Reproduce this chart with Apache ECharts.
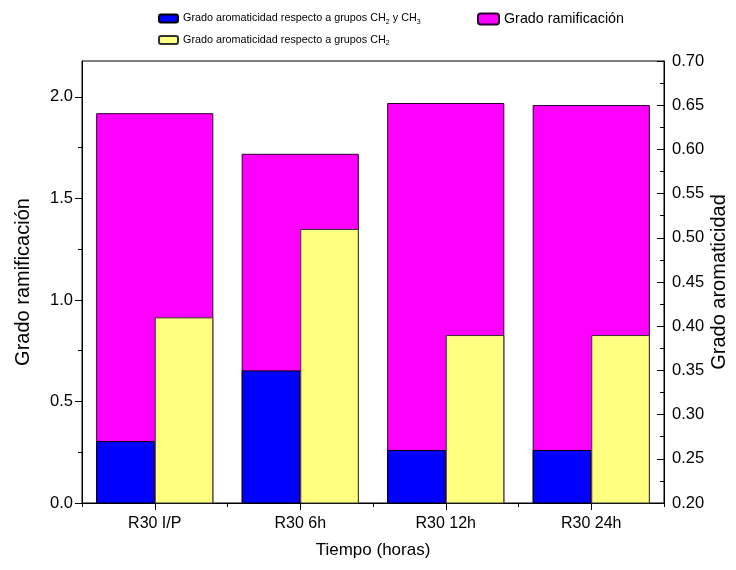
<!DOCTYPE html>
<html>
<head>
<meta charset="utf-8">
<script src="https://cdn.jsdelivr.net/npm/echarts@6/dist/echarts.min.js"></script>
<style>
  html, body { margin: 0; padding: 0; background: #fff; }
  #chart { width: 736px; height: 570px; }
</style>
</head>
<body>
<div id="chart"></div>
<script>
// Samples along the reaction time
const categories = ['R30 I/P', 'R30 6h', 'R30 12h', 'R30 24h'];

// Branching degree (left axis)
const ramificacion = [1.92, 1.72, 1.97, 1.96];
// Aromaticity degree (right axis)
const aromCH2CH3 = [0.27, 0.35, 0.26, 0.26];
const aromCH2 = [0.41, 0.51, 0.39, 0.39];

// Tick positions
const leftMajorTicks = [0, 0.5, 1.0, 1.5, 2.0];
const leftMinorTicks = [0.25, 0.75, 1.25, 1.75];
const leftMax = 2.177;

const FONT = 'Liberation Sans, Arial, sans-serif';
const chart = echarts.init(document.getElementById('chart'));

const axisLine = { show: true, lineStyle: { color: '#000', width: 1 } };

chart.setOption({
  animation: false,
  grid: {
    left: 82, right: 72, top: 61, bottom: 67,
    outerBoundsMode: 'none', containLabel: false,
    show: true, borderColor: '#000', borderWidth: 1, backgroundColor: 'transparent'
  },
  legend: [
    {
      orient: 'vertical', left: 158, top: 13, itemGap: 9, padding: 0,
      itemWidth: 19, itemHeight: 8,
      data: ['arom1', 'arom2'],
      formatter: function (name) {
        return name === 'arom1'
          ? '{t|Grado aromaticidad respecto a grupos CH}{s|2}{t| y CH}{s|3}'
          : '{t|Grado aromaticidad respecto a grupos CH}{s|2}';
      },
      textStyle: {
        fontFamily: FONT, color: '#000',
        rich: {
          t: { fontFamily: FONT, fontSize: 10.8, color: '#000' },
          s: { fontFamily: FONT, fontSize: 7, color: '#000', padding: [7, 0, 0, 0] }
        }
      }
    },
    {
      left: 477, top: 12, padding: 0,
      itemWidth: 21, itemHeight: 11,
      data: ['Grado ramificación'],
      textStyle: { fontFamily: FONT, fontSize: 14.3, color: '#000' }
    }
  ],
  xAxis: [
    {
      type: 'category', data: categories, position: 'bottom',
      axisLine: axisLine,
      axisTick: { show: true, alignWithLabel: true, length: 7, lineStyle: { color: '#000' } },
      axisLabel: { fontFamily: FONT, fontSize: 16, color: '#000', margin: 13 },
      name: 'Tiempo (horas)', nameLocation: 'middle', nameGap: 39, nameMoveOverlap: false,
      nameTextStyle: { fontFamily: FONT, fontSize: 17, color: '#000' }
    },
    {
      type: 'category', data: categories, position: 'bottom',
      axisLine: { show: false },
      axisTick: { show: true, length: 4, lineStyle: { color: '#000' } },
      axisLabel: { show: false }
    }
  ],
  yAxis: [
    {
      type: 'value', position: 'left', min: 0, max: leftMax,
      axisLine: axisLine,
      splitLine: { show: false },
      axisTick: { show: true, length: 7, customValues: leftMajorTicks, lineStyle: { color: '#000' } },
      axisLabel: {
        fontFamily: FONT, fontSize: 16.5, color: '#000', margin: 9,
        customValues: leftMajorTicks,
        formatter: v => v.toFixed(1)
      },
      name: 'Grado ramificación', nameLocation: 'middle', nameGap: 49, nameRotate: 90,
      nameMoveOverlap: false,
      nameTextStyle: { fontFamily: FONT, fontSize: 20, color: '#000' }
    },
    {
      type: 'value', position: 'right', min: 0.2, max: 0.7, interval: 0.05,
      axisLine: axisLine,
      splitLine: { show: false },
      axisTick: { show: true, inside: true, length: 7, lineStyle: { color: '#000' } },
      minorTick: { show: true, splitNumber: 2, length: 4, lineStyle: { color: '#000' } },
      axisLabel: {
        fontFamily: FONT, fontSize: 16.5, color: '#000', margin: 8,
        formatter: v => v.toFixed(2)
      },
      name: 'Grado aromaticidad', nameLocation: 'middle', nameGap: 45, nameRotate: 90,
      nameMoveOverlap: false,
      nameTextStyle: { fontFamily: FONT, fontSize: 20, color: '#000' }
    },
    {
      type: 'value', position: 'left', min: 0, max: leftMax,
      axisLine: { show: false },
      splitLine: { show: false },
      axisTick: { show: true, length: 4, customValues: leftMinorTicks, lineStyle: { color: '#000' } },
      axisLabel: { show: false, customValues: leftMinorTicks }
    }
  ],
  series: [
    {
      name: 'Grado ramificación', type: 'bar', xAxisIndex: 0, yAxisIndex: 0,
      data: ramificacion, barWidth: '80.5%', clip: true, z: 2,
      itemStyle: { color: '#FF00FF', borderColor: '#2a0030', borderWidth: 1 }
    },
    {
      name: 'arom1', type: 'bar', xAxisIndex: 1, yAxisIndex: 1,
      data: aromCH2CH3, barWidth: '40.25%', barGap: '0%', clip: true, z: 3,
      itemStyle: { color: '#0000FF', borderColor: '#000', borderWidth: 1 }
    },
    {
      name: 'arom2', type: 'bar', xAxisIndex: 1, yAxisIndex: 1,
      data: aromCH2, barWidth: '40.25%', barGap: '0%', clip: true, z: 3,
      itemStyle: { color: '#FFFF80', borderColor: '#333', borderWidth: 1 }
    }
  ]
});
</script>
</body>
</html>
